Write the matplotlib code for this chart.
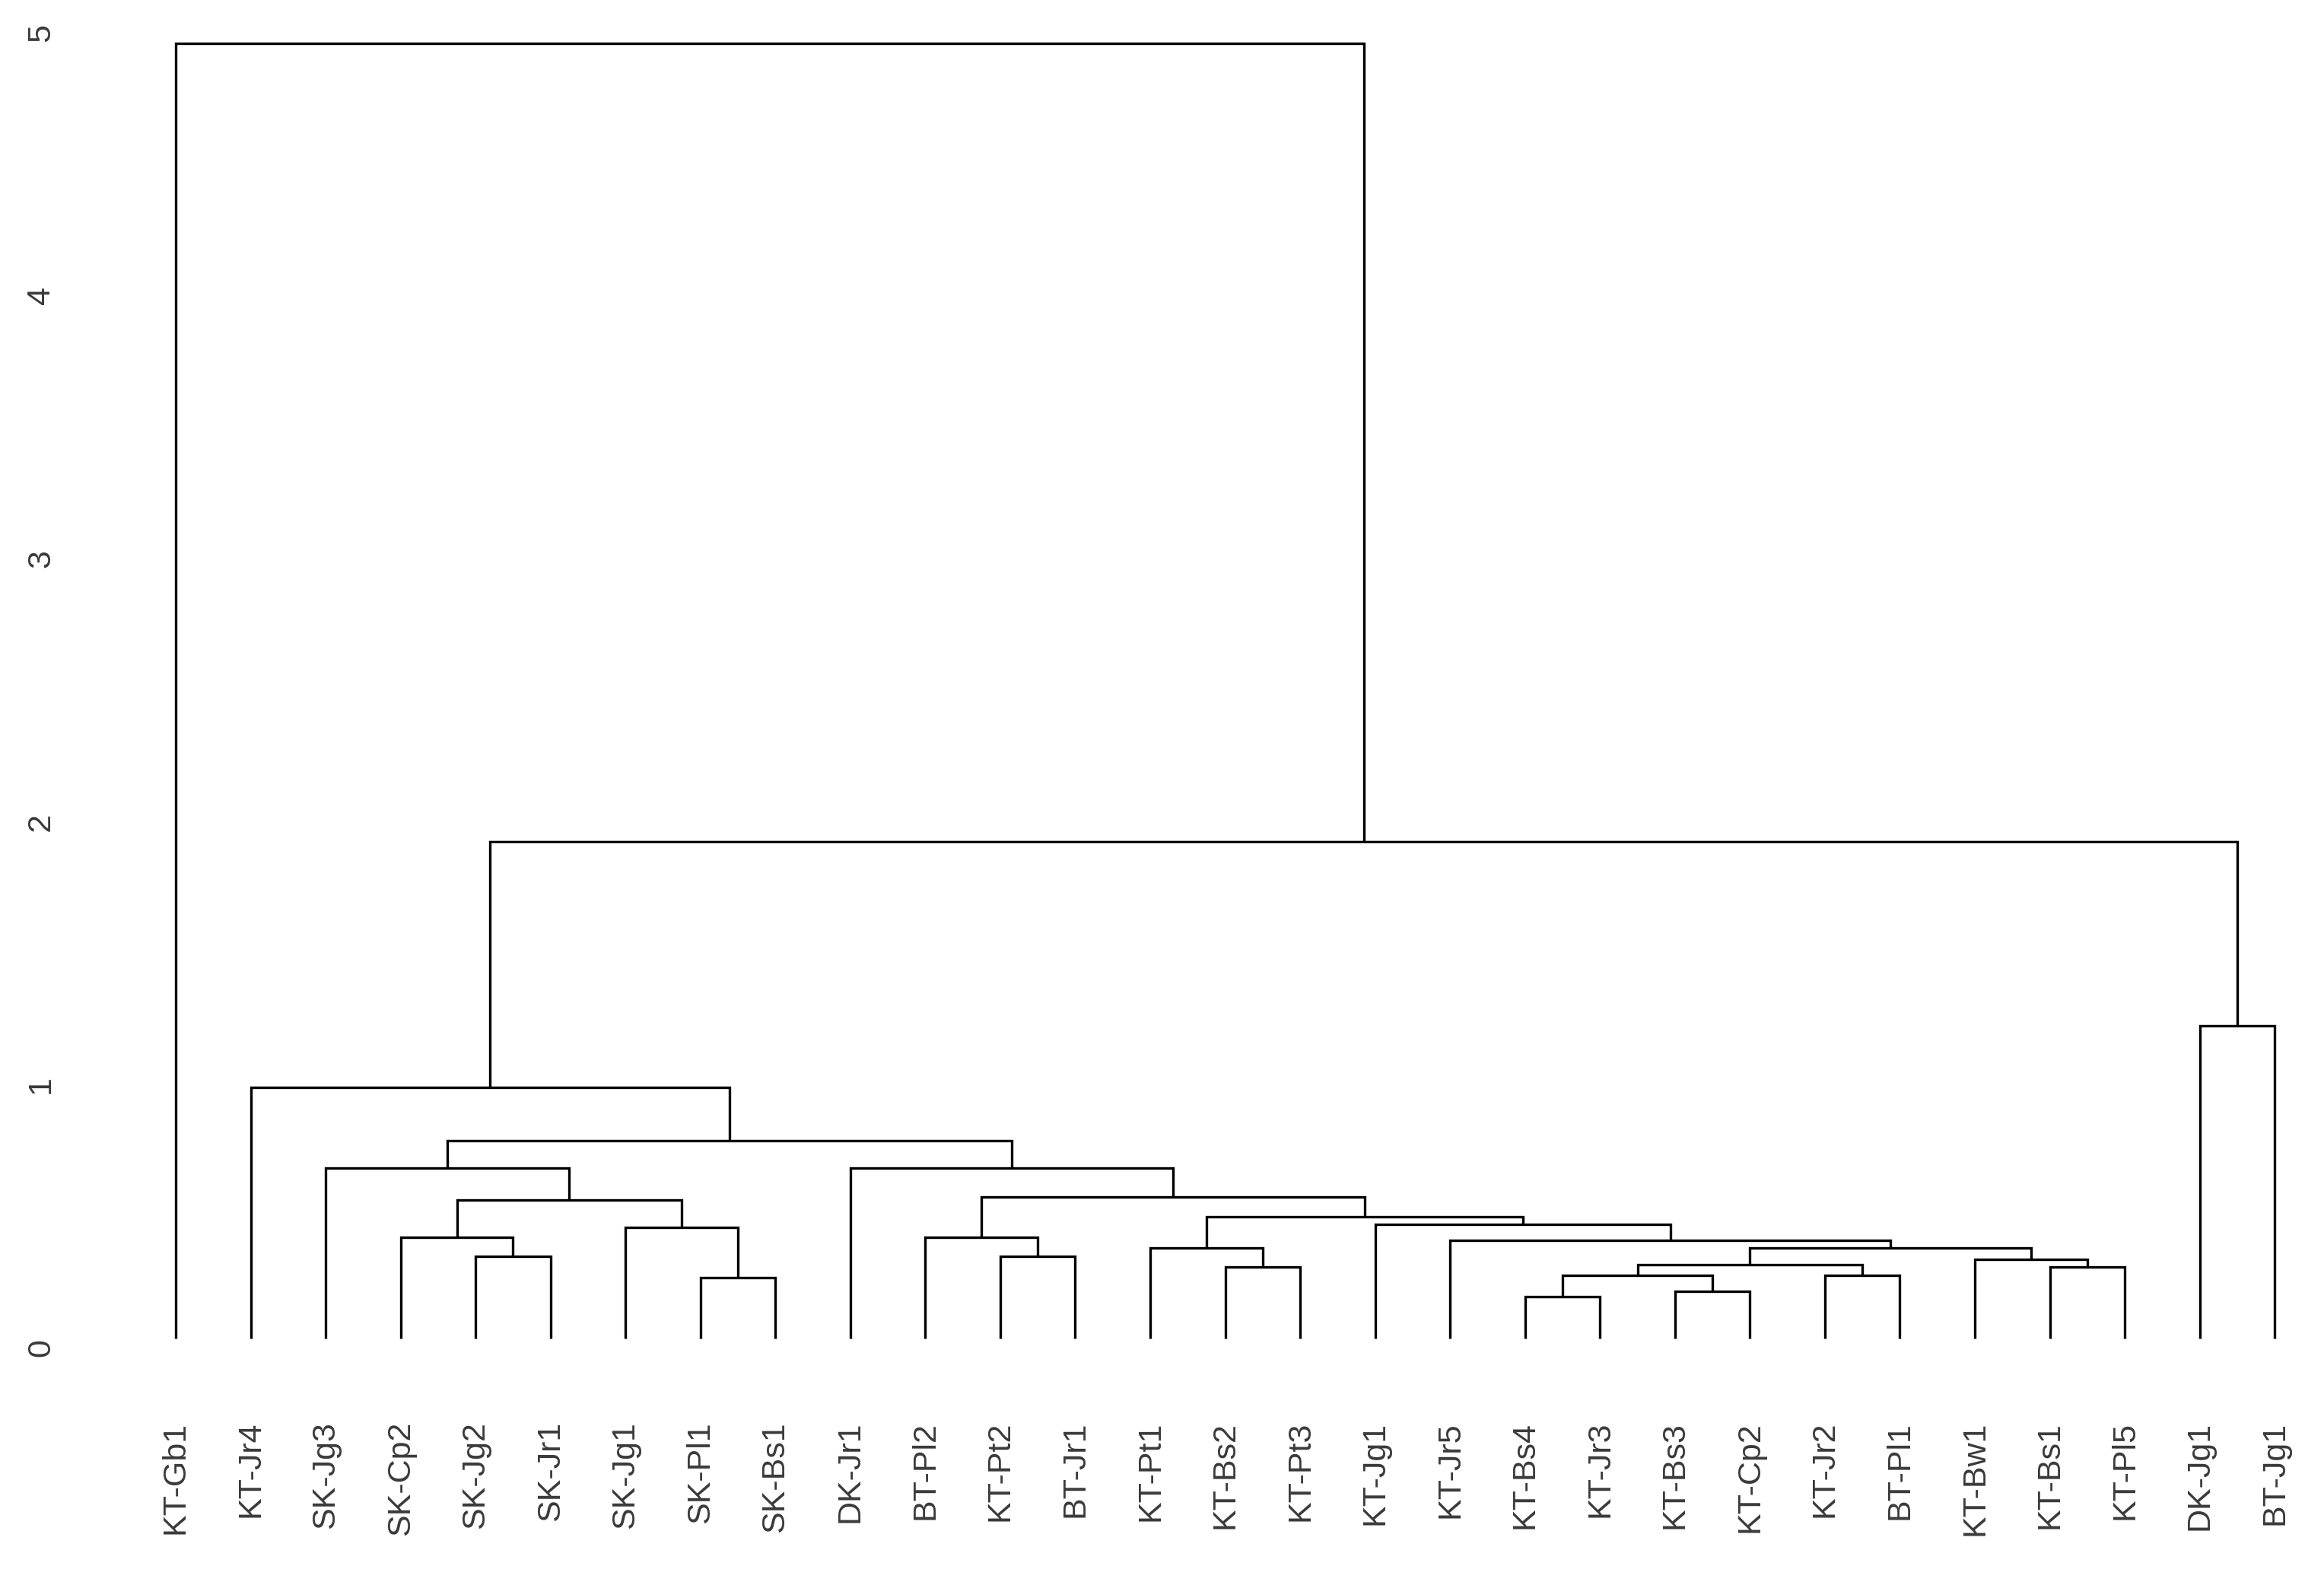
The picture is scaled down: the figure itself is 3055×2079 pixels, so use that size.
import numpy as np
from matplotlib import pyplot as plt

# leaf order as drawn, left to right
labels = ['KT-Gb1', 'KT-Jr4', 'SK-Jg3', 'SK-Cp2', 'SK-Jg2', 'SK-Jr1', 'SK-Jg1',
          'SK-Pl1', 'SK-Bs1', 'DK-Jr1', 'BT-Pl2', 'KT-Pt2', 'BT-Jr1', 'KT-Pt1',
          'KT-Bs2', 'KT-Pt3', 'KT-Jg1', 'KT-Jr5', 'KT-Bs4', 'KT-Jr3', 'KT-Bs3',
          'KT-Cp2', 'KT-Jr2', 'BT-Pl1', 'KT-Bw1', 'KT-Bs1', 'KT-Pl5', 'DK-Jg1',
          'BT-Jg1']

# merges: children are leaf names (str) or earlier merge index (int)
merge_left = ['KT-Bs4', 'KT-Bs3', 'SK-Pl1', 'KT-Jr2', 0, 'KT-Bs2', 'KT-Bs1',
              4, 'KT-Bw1', 'SK-Jg2', 'KT-Pt2', 7, 'KT-Pt1', 'KT-Jr5', 'SK-Cp2',
              'BT-Pl2', 'SK-Jg1', 'KT-Jg1', 12, 14, 15, 'SK-Jg3', 'DK-Jr1', 21,
              'KT-Jr4', 'DK-Jg1', 24, 'KT-Gb1']
merge_right = ['KT-Jr3', 'KT-Cp2', 'SK-Bs1', 'BT-Pl1', 1, 'KT-Pt3', 'KT-Pl5',
               3, 6, 'SK-Jr1', 'BT-Jr1', 8, 5, 11, 9,
               10, 2, 13, 17, 16, 18, 19, 20, 22,
               23, 'BT-Jg1', 25, 26]
merge_height = [0.194, 0.213, 0.266, 0.275, 0.275, 0.305, 0.305,
                0.314, 0.335, 0.347, 0.347, 0.377, 0.377, 0.408, 0.418,
                0.418, 0.457, 0.467, 0.498, 0.562, 0.571, 0.682, 0.682, 0.785,
                0.99, 1.224, 1.925, 4.96]

LEAF_BASE = 0.035

plt.rcParams['font.family'] = ['Liberation Sans', 'DejaVu Sans']


def main():
    fig = plt.figure(figsize=(30.55, 20.79), dpi=100)
    ax = fig.add_axes([0.05948, 0.14829, 0.93543, 0.83103])

    leaf_x = {name: i + 1 for i, name in enumerate(labels)}
    node_x = []

    def pos(c):
        if isinstance(c, str):
            return leaf_x[c], LEAF_BASE
        return node_x[c], merge_height[c]

    for l, r, h in zip(merge_left, merge_right, merge_height):
        xl, hl = pos(l)
        xr, hr = pos(r)
        ax.plot([xl, xl, xr, xr], [hl, h, h, hr], color='black', lw=2.4,
                solid_joinstyle='miter', solid_capstyle='butt')
        node_x.append((xl + xr) / 2)

    ax.set_xlim(0.5, len(labels) + 0.5)
    ax.set_ylim(0, 5)
    ax.set_xticks(np.arange(1, len(labels) + 1))
    ax.set_xticklabels(labels, rotation=90, fontsize=31, color='#3a3a3a')
    ax.set_yticks(range(6))
    ax.set_yticklabels([str(v) for v in range(6)], rotation=90, fontsize=31,
                       color='#3a3a3a')
    for t in ax.get_yticklabels():
        t.set_ha('center')
        t.set_va('center')
    ax.tick_params(axis='x', length=0, pad=70)
    ax.tick_params(axis='y', length=0, pad=92)
    for s in ax.spines.values():
        s.set_visible(False)

    fig.savefig('out.png', dpi=100, facecolor='white')


if __name__ == "__main__":
    main()
